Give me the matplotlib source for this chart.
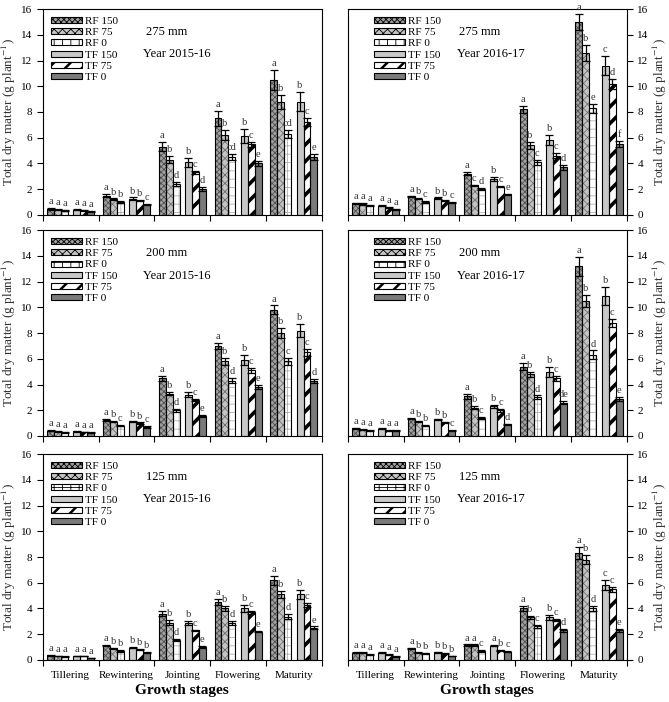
import numpy as np
import matplotlib
matplotlib.use("Agg")
import matplotlib.pyplot as plt
from matplotlib.patches import Patch
from matplotlib.patheffects import AbstractPathEffect

plt.rcParams['font.family'] = ['Liberation Serif', 'DejaVu Serif']
plt.rcParams['mathtext.fontset'] = 'stix'

stages = ['Tillering', 'Rewintering', 'Jointing', 'Flowering', 'Maturity']
treatments = ['RF 150', 'RF 75', 'RF 0', 'TF 150', 'TF 75', 'TF 0']

# dry matter (g plant-1), one row per growth stage, columns follow treatments
dm_275_1516 = [[0.45, 0.40, 0.35, 0.40, 0.35, 0.28],
               [1.50, 1.20, 1.00, 1.25, 1.10, 0.80],
               [5.30, 4.30, 2.40, 4.10, 3.30, 2.00],
               [7.50, 6.20, 4.50, 6.10, 5.50, 4.00],
               [10.5, 8.80, 6.30, 8.80, 7.20, 4.50]]
err_275_1516 = [[0.05, 0.04, 0.04, 0.05, 0.04, 0.03],
                [0.10, 0.07, 0.05, 0.10, 0.05, 0.05],
                [0.35, 0.25, 0.15, 0.35, 0.10, 0.15],
                [0.60, 0.40, 0.20, 0.55, 0.20, 0.20],
                [0.80, 0.55, 0.30, 0.75, 0.30, 0.20]]
let_275_1516 = [['a', 'a', 'a', 'a', 'a', 'a'],
                ['a', 'b', 'b', 'b', 'b', 'c'],
                ['a', 'b', 'd', 'b', 'c', 'd'],
                ['a', 'b', 'cd', 'b', 'c', 'e'],
                ['a', 'b', 'cd', 'b', 'c', 'e']]

dm_275_1617 = [[0.90, 0.85, 0.75, 0.70, 0.55, 0.45],
               [1.45, 1.25, 1.00, 1.30, 1.10, 0.95],
               [3.20, 2.30, 2.00, 2.80, 2.20, 1.60],
               [8.20, 5.40, 4.10, 5.80, 4.60, 3.70],
               [15.0, 12.6, 8.30, 11.6, 10.2, 5.50]]
err_275_1617 = [[0.05, 0.05, 0.05, 0.05, 0.04, 0.04],
                [0.05, 0.05, 0.05, 0.05, 0.05, 0.05],
                [0.10, 0.05, 0.10, 0.15, 0.05, 0.05],
                [0.30, 0.25, 0.20, 0.40, 0.20, 0.20],
                [0.60, 0.60, 0.35, 0.75, 0.40, 0.25]]
let_275_1617 = [['a', 'a', 'a', 'a', 'a', 'a'],
                ['a', 'b', 'c', 'b', 'b', 'c'],
                ['a', 'c', 'd', 'b', 'c', 'e'],
                ['a', 'b', 'c', 'b', 'c', 'd'],
                ['a', 'b', 'e', 'c', 'd', 'f']]

dm_200_1516 = [[0.40, 0.35, 0.30, 0.35, 0.30, 0.25],
               [1.25, 1.10, 0.80, 1.15, 1.00, 0.70],
               [4.50, 3.30, 2.00, 3.20, 2.80, 1.55],
               [7.00, 5.80, 4.30, 5.90, 5.10, 3.80],
               [9.80, 8.00, 5.80, 8.20, 6.50, 4.30]]
err_200_1516 = [[0.04, 0.04, 0.04, 0.04, 0.03, 0.03],
                [0.05, 0.05, 0.05, 0.05, 0.05, 0.05],
                [0.20, 0.15, 0.10, 0.20, 0.10, 0.05],
                [0.25, 0.30, 0.20, 0.40, 0.20, 0.15],
                [0.35, 0.40, 0.30, 0.50, 0.30, 0.15]]
let_200_1516 = [['a', 'a', 'a', 'a', 'a', 'a'],
                ['a', 'b', 'c', 'b', 'b', 'c'],
                ['a', 'b', 'd', 'b', 'c', 'e'],
                ['a', 'b', 'd', 'b', 'c', 'e'],
                ['a', 'b', 'c', 'b', 'c', 'd']]

dm_200_1617 = [[0.60, 0.50, 0.40, 0.55, 0.40, 0.40],
               [1.35, 1.15, 0.80, 1.30, 1.05, 0.40],
               [3.10, 2.20, 1.40, 2.30, 2.00, 0.90],
               [5.40, 4.80, 3.00, 5.00, 4.50, 2.60],
               [13.2, 10.5, 6.30, 10.9, 8.80, 2.90]]
err_200_1617 = [[0.04, 0.04, 0.04, 0.04, 0.04, 0.03],
                [0.05, 0.05, 0.05, 0.05, 0.05, 0.04],
                [0.20, 0.10, 0.05, 0.10, 0.10, 0.05],
                [0.25, 0.20, 0.15, 0.40, 0.20, 0.10],
                [0.75, 0.45, 0.35, 0.70, 0.30, 0.15]]
let_200_1617 = [['a', 'a', 'a', 'a', 'a', 'a'],
                ['a', 'b', 'b', 'b', 'b', 'c'],
                ['a', 'b', 'c', 'b', 'c', 'd'],
                ['a', 'b', 'd', 'b', 'c', 'de'],
                ['a', 'b', 'd', 'b', 'c', 'e']]

dm_125_1516 = [[0.35, 0.30, 0.25, 0.30, 0.30, 0.15],
               [1.10, 0.90, 0.70, 0.95, 0.80, 0.55],
               [3.60, 2.90, 1.55, 2.85, 2.30, 1.00],
               [4.50, 4.00, 2.90, 4.00, 3.70, 2.20],
               [6.20, 5.10, 3.35, 5.10, 4.30, 2.50]]
err_125_1516 = [[0.03, 0.03, 0.03, 0.03, 0.03, 0.02],
                [0.05, 0.05, 0.05, 0.05, 0.05, 0.05],
                [0.20, 0.20, 0.10, 0.15, 0.05, 0.05],
                [0.25, 0.20, 0.15, 0.25, 0.10, 0.05],
                [0.35, 0.25, 0.20, 0.35, 0.15, 0.10]]
let_125_1516 = [['a', 'a', 'a', 'a', 'a', 'a'],
                ['a', 'b', 'b', 'b', 'b', 'b'],
                ['a', 'b', 'd', 'b', 'c', 'e'],
                ['a', 'b', 'd', 'b', 'c', 'e'],
                ['a', 'b', 'd', 'b', 'c', 'e']]

dm_125_1617 = [[0.55, 0.55, 0.40, 0.55, 0.40, 0.25],
               [0.90, 0.55, 0.50, 0.60, 0.50, 0.30],
               [1.15, 1.15, 0.70, 1.10, 0.75, 0.65],
               [4.00, 3.30, 2.60, 3.30, 3.10, 2.30],
               [8.30, 7.80, 4.00, 5.80, 5.50, 2.30]]
err_125_1617 = [[0.03, 0.03, 0.03, 0.03, 0.03, 0.02],
                [0.04, 0.04, 0.04, 0.04, 0.04, 0.03],
                [0.05, 0.05, 0.05, 0.05, 0.05, 0.05],
                [0.20, 0.15, 0.15, 0.20, 0.10, 0.10],
                [0.45, 0.35, 0.20, 0.40, 0.20, 0.10]]
let_125_1617 = [['a', 'a', 'a', 'a', 'a', 'a'],
                ['a', 'b', 'b', 'b', 'b', 'b'],
                ['a', 'a', 'c', 'a', 'b', 'c'],
                ['a', 'b', 'c', 'b', 'c', 'd'],
                ['a', 'b', 'd', 'c', 'c', 'e']]

# bar looks: face, hatch, hatch colour, hatch line width
styles = [('#a0a0a0', 'xxxxxx', '#505050', 0.6),
          ('#c4c4c4', 'xxxx', '#707070', 0.6),
          ('white', '++', '#b0b0b0', 0.6),
          ('#c8c8c8', '', 'black', 0.6),
          ('white', '//', 'black', 2.6),
          ('#7a7a7a', '', 'black', 0.6)]
offsets = [-0.36, -0.235, -0.11, 0.11, 0.235, 0.36]
width = 0.125

panels = [(dm_275_1516, err_275_1516, let_275_1516, '275 mm', 'Year 2015-16'),
          (dm_275_1617, err_275_1617, let_275_1617, '275 mm', 'Year 2016-17'),
          (dm_200_1516, err_200_1516, let_200_1516, '200 mm', 'Year 2015-16'),
          (dm_200_1617, err_200_1617, let_200_1617, '200 mm', 'Year 2016-17'),
          (dm_125_1516, err_125_1516, let_125_1516, '125 mm', 'Year 2015-16'),
          (dm_125_1617, err_125_1617, let_125_1617, '125 mm', 'Year 2016-17')]


# push a thicker hatch line width straight into the graphics context
class ThickHatch(AbstractPathEffect):
    def __init__(self, lw):
        super().__init__()
        self.lw = lw

    def draw_path(self, renderer, gc, tpath, affine, rgbFace=None):
        gc0 = renderer.new_gc()
        gc0.copy_properties(gc)
        gc0._hatch_linewidth = self.lw
        renderer.draw_path(gc0, tpath, affine, rgbFace)
        gc0.restore()


def set_hatch_width(patch, lw):
    if hasattr(patch, 'set_hatch_linewidth'):
        patch.set_hatch_linewidth(lw)
    patch.set_path_effects([ThickHatch(lw)])


fig = plt.figure(figsize=(6.69, 7.02), dpi=100)
lefts = [0.064, 0.520]
w = 0.417
bottoms = [0.694, 0.379, 0.060]
h = 0.293

x = np.arange(1, len(stages) + 1)
ylab = 'Total dry matter (g plant$^{-1}$)'

for i, (dm, err, let, rain, year) in enumerate(panels):
    row, col = divmod(i, 2)
    ax = fig.add_axes([lefts[col], bottoms[row], w, h])
    dm = np.array(dm)
    err = np.array(err)
    for j in range(6):
        fc, hatch, hc, hlw = styles[j]
        pos = x + offsets[j]
        bars = ax.bar(pos, dm[:, j], width, color=fc, hatch=hatch,
                      edgecolor=hc, linewidth=0, zorder=2)
        for b in bars:
            set_hatch_width(b, hlw)
        ax.bar(pos, dm[:, j], width, fill=False, edgecolor='black',
               linewidth=0.8, zorder=3)
        ax.errorbar(pos, dm[:, j], yerr=err[:, j], fmt='none', ecolor='black',
                    elinewidth=0.9, capsize=2.6, capthick=0.9, zorder=4)
        for k in range(len(stages)):
            ax.text(pos[k], dm[k, j] + err[k, j] + 0.15, let[k][j],
                    ha='center', va='bottom', fontsize=7.5, color='#333333')

    ax.set_xlim(0.5, 5.5)
    ax.set_ylim(0, 16)
    ax.set_yticks(np.arange(0, 17, 2))
    ax.set_xticks(np.arange(0.5, 5.6, 1))
    ax.set_xticklabels([])
    ax.set_xticks(x, minor=True)
    ax.tick_params(axis='x', which='major', direction='out', length=4, width=0.8)
    ax.tick_params(axis='x', which='minor', length=0, labelsize=8, pad=8)
    ax.tick_params(axis='y', direction='out', length=4, width=0.8, labelsize=8)
    if row == 2:
        ax.set_xticklabels(stages, minor=True)
        ax.set_xlabel('Growth stages', fontsize=11, fontweight='bold', labelpad=3)
    for s in ax.spines.values():
        s.set_linewidth(0.8)
    if col == 1:
        ax.yaxis.tick_right()
        ax.yaxis.set_label_position('right')
    ax.set_ylabel(ylab, fontsize=9.5, color='#333333', labelpad=2)

    handles = [Patch(facecolor=styles[j][0], hatch=styles[j][1],
                     edgecolor='black', linewidth=0.8) for j in range(6)]
    leg_x = 0.0 if col == 0 else 0.065
    leg = ax.legend(handles, treatments, loc='upper left', bbox_to_anchor=(leg_x, 1.0),
                    frameon=False, fontsize=8, handlelength=2.8, handleheight=0.45,
                    labelspacing=0.2, handletextpad=0.3, borderaxespad=0.3)
    for j, p in enumerate(leg.get_patches()):
        set_hatch_width(p, min(styles[j][3], 1.8))
    tx = 0.37 if col == 0 else 0.40
    ax.text(tx, 0.89, rain, transform=ax.transAxes, fontsize=9, va='center')
    ax.text(tx - 0.01, 0.78, year, transform=ax.transAxes, fontsize=9, va='center')

fig.savefig('out.png', dpi=100)
